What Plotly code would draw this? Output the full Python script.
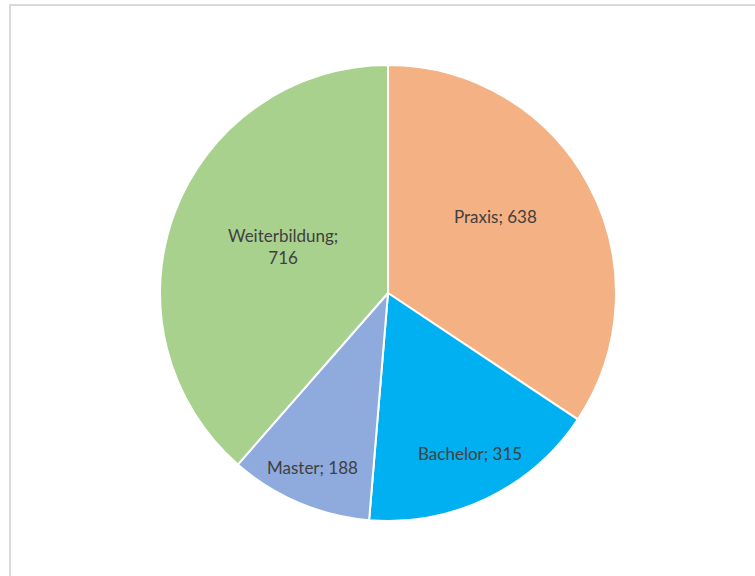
import math
import plotly.graph_objects as go

labels = ["Praxis", "Bachelor", "Master", "Weiterbildung"]
values = [638, 315, 188, 716]
colors = ["#F4B183", "#00B0F0", "#8FAADC", "#A9D18E"]
texts = ["Praxis; 638", "Bachelor; 315", "Master; 188", "Weiterbildung;<br>716"]

# label placement style (fraction of radius, angular nudge in degrees)
label_rfrac = [0.579, 0.789, 0.833, 0.504]
label_dang = [-7.0, -1.3, 0.6, 3.5]

W, H = 755, 576
cx, cy, r = 388, 293, 228

fig = go.Figure(go.Pie(
    labels=labels, values=values,
    textinfo="none",
    sort=False, direction="clockwise", rotation=0,
    marker=dict(colors=colors, line=dict(color="white", width=2)),
    hoverinfo="label+value",
    domain=dict(x=[(cx - r) / W, (cx + r) / W], y=[1 - (cy + r) / H, 1 - (cy - r) / H]),
))

total = sum(values)
annotations = []
cum = 0
for v, t, rf, da in zip(values, texts, label_rfrac, label_dang):
    mid = (cum + v / 2) / total * 360 + da
    cum += v
    px = cx + rf * r * math.sin(math.radians(mid))
    py = cy - rf * r * math.cos(math.radians(mid))
    annotations.append(dict(
        x=px / W, y=1 - py / H, xref="paper", yref="paper",
        text=t, showarrow=False, xanchor="center", yanchor="middle",
        font=dict(family="Lato, Liberation Sans, sans-serif", size=17, color="#404040"),
    ))

fig.update_layout(
    width=W, height=H, margin=dict(l=0, r=0, t=0, b=0),
    paper_bgcolor="white", showlegend=False,
    annotations=annotations,
    shapes=[dict(type="rect", xref="paper", yref="paper",
                 x0=10 / W, x1=1.05, y0=-0.05, y1=1 - 5 / H,
                 line=dict(color="#D9D9D9", width=2), fillcolor="rgba(0,0,0,0)", layer="below")],
)

fig.write_html("out.html", config={"displayModeBar": False},
               post_script="document.body.style.margin='0';")
